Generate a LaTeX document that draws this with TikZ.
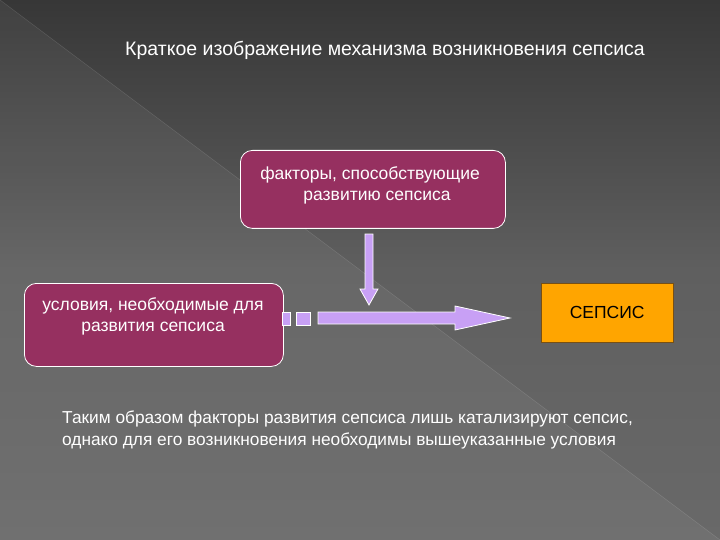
\documentclass[tikz,border=0pt]{standalone}
\usepackage{fontspec}
\setmainfont{Liberation Sans}
\begin{document}
\begin{tikzpicture}[x=1pt,y=-1pt,
  box/.style={draw=white,line width=0.8pt,rounded corners=12pt,fill={rgb,255:red,150;green,48;blue,96},text=white,align=center,inner sep=0pt},
  txt/.style={text=white,font=\fontsize{17.5}{21}\selectfont,align=center},
  arr/.style={fill={rgb,255:red,200;green,160;blue,245},draw=white,line width=0.8pt}]
\useasboundingbox (0,0) rectangle (720,540);
\shade[top color={rgb,255:red,55;green,55;blue,55},bottom color={rgb,255:red,105;green,105;blue,105},middle color={rgb,255:red,95;green,95;blue,95}] (0,0) rectangle (720,540);
\fill[white,opacity=0.05] (0,0) -- (720,540) -- (0,540) -- cycle;
\draw[white,opacity=0.15] (0,0) -- (720,540);
\node[text=white,font=\fontsize{19.5}{23}\selectfont] (title) at (385,50) {Краткое изображение механизма возникновения сепсиса};
\node[box,minimum width=265pt,minimum height=78pt,anchor=north west] (f) at (240,150) {};
\node[txt] (ft) at (370,185) {факторы, способствующие\\\hspace*{0.8em}развитию сепсиса};
\node[box,minimum width=259pt,minimum height=83pt,anchor=north west] (u) at (24,283) {};
\node[txt] (ut) at (153,316) {условия, необходимые для\\развития сепсиса};
\node[draw={rgb,255:red,120;green,80;blue,20},fill={rgb,255:red,255;green,165;blue,0},minimum width=132pt,minimum height=59pt,anchor=north west,font=\fontsize{17.5}{21}\selectfont,text=black] (s) at (541,283) {СЕПСИС};
\draw[arr] (365,234) -- (373,234) -- (373,289) -- (378,289) -- (369,305) -- (360,289) -- (365,289) -- cycle;
\draw[arr] (282,312) rectangle (290,325);
\draw[arr] (296,312) rectangle (310,325);
\draw[arr] (318,312) -- (455,312) -- (455,306) -- (510,318) -- (455,330) -- (455,324) -- (318,324) -- cycle;
\node[text=white,font=\fontsize{17.3}{22}\selectfont,align=left,anchor=north west,inner sep=0pt] (b) at (62,411) {Таким образом факторы развития сепсиса лишь катализируют сепсис,\\однако для его возникновения необходимы вышеуказанные условия};
\end{tikzpicture}
\end{document}
